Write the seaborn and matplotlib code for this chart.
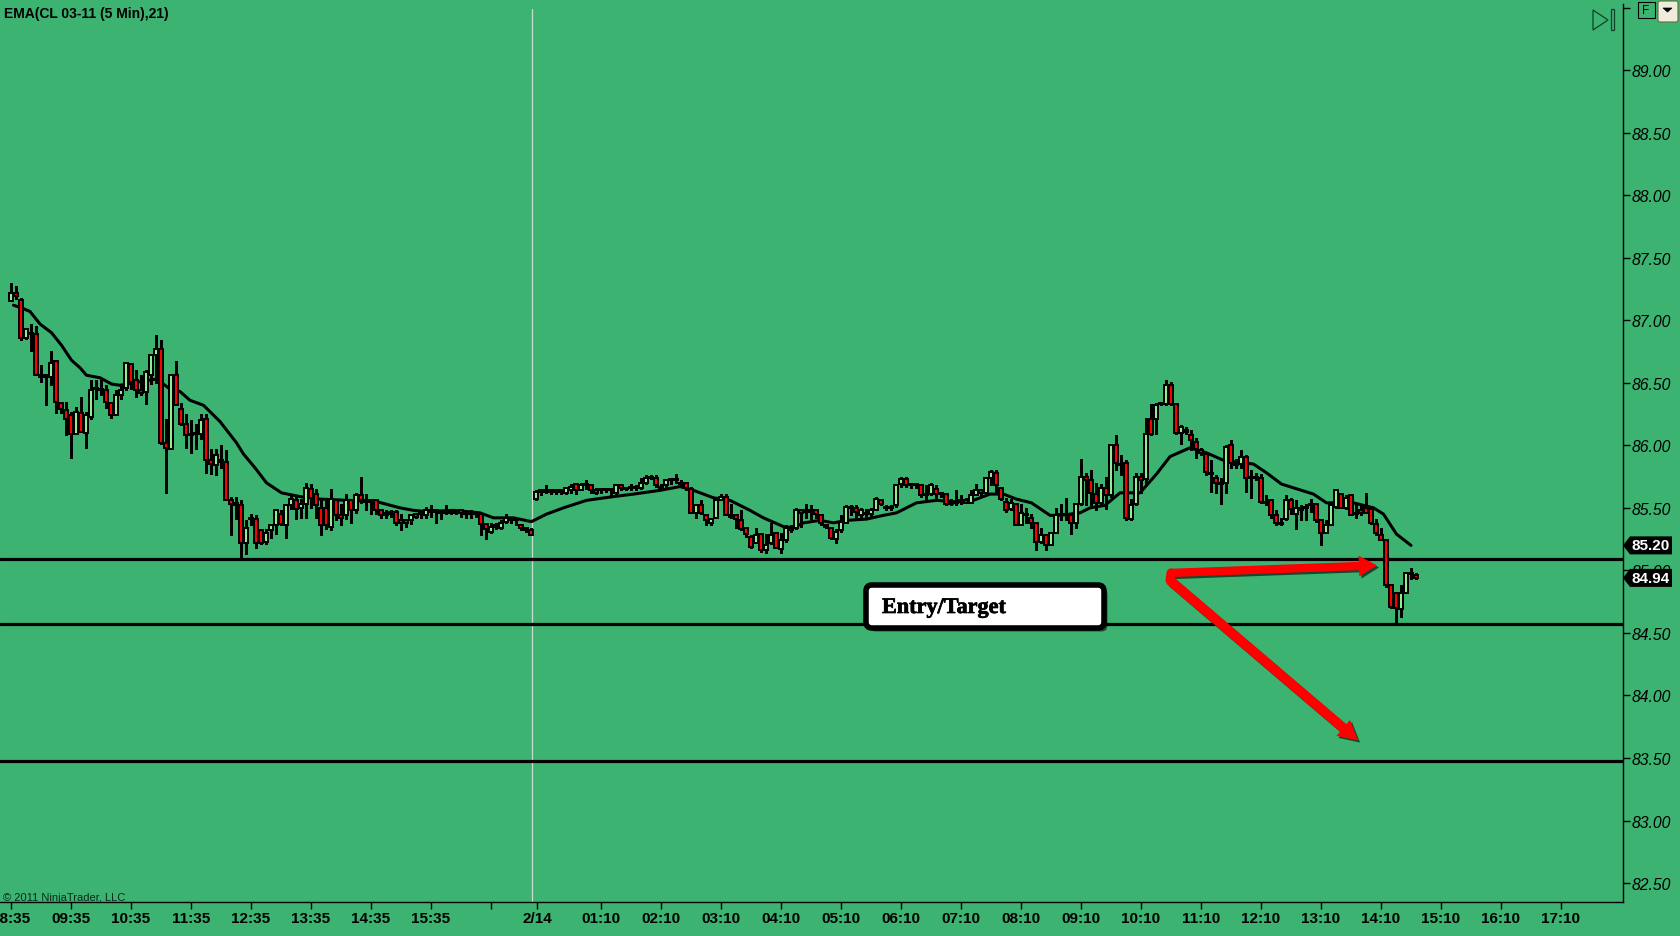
import numpy as np
import pandas as pd
import matplotlib
matplotlib.use("Agg")
import matplotlib.pyplot as plt
import matplotlib.patheffects as pe
from matplotlib.patches import FancyBboxPatch, FancyArrowPatch, Polygon, Rectangle
import seaborn as sns

opens = [
87.15,87.22,87.16,86.86,86.90,86.89,86.56,86.56,86.55,86.67,
86.34,86.28,86.24,86.09,86.26,86.10,86.23,86.45,86.45,86.44,
86.34,86.24,86.40,86.46,86.65,86.52,86.44,86.43,86.56,86.72,
86.77,86.02,85.97,86.56,86.29,86.17,86.09,86.10,86.09,86.21,
85.88,85.84,85.88,85.87,85.56,85.54,85.52,85.22,85.42,85.41,
85.32,85.23,85.32,85.36,85.45,85.36,85.52,85.56,85.50,85.53,
85.65,85.61,85.50,85.50,85.35,85.56,85.44,85.44,85.56,85.48,
85.60,85.56,85.56,85.56,85.48,85.46,85.47,85.47,85.40,85.40,
85.40,85.45,85.46,85.44,85.48,85.48,85.47,85.47,85.47,85.47,
85.48,85.47,85.46,85.46,85.45,85.37,85.31,85.36,85.34,85.39,
85.42,85.41,85.36,85.34,85.32,85.57,85.64,85.64,85.64,85.64,
85.64,85.62,85.64,85.69,85.64,85.69,85.68,85.64,85.64,85.65,
85.65,85.62,85.68,85.66,85.67,85.67,85.66,85.70,85.75,85.74,
85.67,85.68,85.73,85.73,85.70,85.70,85.65,85.46,85.52,85.44,
85.38,85.42,85.56,85.59,85.44,85.44,85.40,85.34,85.27,85.22,
85.29,85.16,85.22,85.30,85.17,85.24,85.34,85.34,85.48,85.48,
85.48,85.48,85.44,85.36,85.34,85.25,85.32,85.38,85.51,85.50,
85.44,85.46,85.45,85.48,85.56,85.51,85.51,85.52,85.69,85.73,
85.69,85.69,85.68,85.61,85.61,85.65,85.62,85.61,85.54,85.55,
85.56,85.56,85.54,85.60,85.64,85.62,85.74,85.78,85.66,85.55,
85.49,85.53,85.36,85.45,85.42,85.38,85.23,85.28,85.20,85.30,
85.45,85.45,85.44,85.38,85.53,85.75,85.72,85.61,85.54,85.66,
85.60,86.00,85.85,85.86,85.41,85.53,85.75,85.73,86.21,86.21,
86.34,86.33,86.48,86.33,86.10,86.12,86.08,86.03,85.96,85.93,
85.78,85.74,85.70,85.70,86.00,85.86,85.85,85.91,85.75,85.75,
85.74,85.55,85.56,85.44,85.38,85.41,85.56,85.45,85.50,85.51,
85.53,85.53,85.40,85.30,85.36,85.51,85.61,85.50,85.60,85.45,
85.48,85.50,85.49,85.37,85.28,85.24,84.88,84.82,84.69,84.82,84.98,84.96]

closes = [
87.22,87.19,86.86,86.93,86.89,86.56,86.55,86.55,86.66,86.35,
86.29,86.21,86.09,86.27,86.11,86.24,86.44,86.46,86.44,86.35,
86.24,86.40,86.44,86.66,86.51,86.44,86.42,86.59,86.72,86.77,
86.02,85.98,86.56,86.32,86.17,86.08,86.08,86.09,86.20,85.88,
85.85,85.92,85.87,85.56,85.53,85.52,85.22,85.34,85.41,85.22,
85.22,85.30,85.36,85.48,85.37,85.52,85.57,85.49,85.53,85.66,
85.58,85.52,85.36,85.36,85.57,85.44,85.42,85.56,85.48,85.60,
85.56,85.55,85.55,85.48,85.44,85.44,85.45,85.38,85.38,85.38,
85.44,85.43,85.45,85.48,85.47,85.47,85.46,85.46,85.46,85.46,
85.46,85.45,85.45,85.45,85.37,85.33,85.35,85.35,85.38,85.42,
85.40,85.40,85.34,85.32,85.28,85.63,85.63,85.63,85.63,85.63,
85.63,85.66,85.67,85.64,85.68,85.68,85.64,85.62,85.65,85.64,
85.64,85.68,85.66,85.65,85.66,85.66,85.70,85.74,85.74,85.68,
85.66,85.72,85.72,85.72,85.69,85.66,85.46,85.52,85.46,85.40,
85.41,85.56,85.59,85.44,85.43,85.41,85.33,85.29,85.19,85.28,
85.16,85.20,85.28,85.18,85.24,85.34,85.32,85.48,85.46,85.47,
85.47,85.45,85.38,85.35,85.26,85.31,85.39,85.51,85.50,85.47,
85.48,85.45,85.48,85.57,85.53,85.50,85.50,85.68,85.73,85.68,
85.68,85.68,85.60,85.60,85.68,85.61,85.61,85.53,85.53,85.54,
85.55,85.54,85.60,85.64,85.62,85.74,85.79,85.68,85.57,85.48,
85.54,85.36,85.46,85.44,85.38,85.23,85.28,85.20,85.30,85.44,
85.44,85.44,85.38,85.53,85.75,85.72,85.62,85.54,85.66,85.60,
86.00,85.86,85.84,85.42,85.52,85.75,85.72,86.09,86.09,86.32,
86.33,86.48,86.33,86.10,86.15,86.11,86.04,85.97,85.94,85.79,
85.77,85.70,85.69,85.99,85.86,85.84,85.91,85.74,85.74,85.74,
85.55,85.54,85.44,85.38,85.37,85.56,85.49,85.50,85.48,85.50,
85.52,85.40,85.30,85.36,85.52,85.64,85.50,85.58,85.44,85.46,
85.46,85.46,85.38,85.30,85.24,84.88,84.71,84.70,84.82,84.98,84.97,84.94]

highs = [
87.30,87.27,87.18,86.94,86.97,86.95,86.64,86.56,86.75,86.68,
86.35,86.35,86.27,86.31,86.39,86.27,86.52,86.52,86.52,86.48,
86.35,86.44,86.49,86.66,86.66,86.60,86.56,86.60,86.72,86.88,
86.84,86.21,86.56,86.67,86.34,86.25,86.20,86.17,86.25,86.25,
85.97,85.97,86.00,85.96,85.59,85.59,85.56,85.40,85.45,85.44,
85.33,85.33,85.37,85.48,85.48,85.53,85.60,85.60,85.57,85.70,
85.69,85.65,85.56,85.56,85.65,85.57,85.53,85.61,85.57,85.62,
85.75,85.61,85.57,85.57,85.49,85.48,85.48,85.48,85.45,85.41,
85.44,85.46,85.48,85.51,85.52,85.49,85.48,85.52,85.48,85.48,
85.48,85.48,85.48,85.47,85.46,85.38,85.38,85.38,85.40,85.45,
85.43,85.42,85.37,85.34,85.34,85.64,85.64,85.68,85.64,85.64,
85.64,85.67,85.69,85.70,85.70,85.72,85.69,85.66,85.66,85.66,
85.66,85.69,85.69,85.67,85.69,85.68,85.74,85.76,85.76,85.76,
85.69,85.73,85.74,85.77,85.72,85.71,85.67,85.53,85.56,85.45,
85.42,85.56,85.61,85.61,85.53,85.45,85.48,85.35,85.28,85.34,
85.29,85.29,85.38,85.30,85.30,85.36,85.36,85.50,85.49,85.53,
85.52,85.49,85.44,85.37,85.34,85.33,85.44,85.52,85.52,85.52,
85.50,85.49,85.50,85.59,85.57,85.52,85.52,85.69,85.75,85.75,
85.70,85.70,85.69,85.68,85.70,85.68,85.63,85.62,85.57,85.64,
85.60,85.58,85.64,85.69,85.65,85.74,85.80,85.80,85.66,85.58,
85.57,85.54,85.53,85.50,85.45,85.39,85.34,85.29,85.30,85.50,
85.53,85.58,85.46,85.54,85.89,85.78,85.80,85.70,85.69,85.75,
86.01,86.08,85.92,85.88,85.57,85.78,85.78,86.22,86.33,86.34,
86.34,86.52,86.51,86.34,86.16,86.15,86.12,86.06,85.98,85.94,
85.88,85.76,85.74,86.00,86.04,85.89,85.96,85.92,85.80,85.78,
85.77,85.60,85.56,85.48,85.42,85.60,85.58,85.56,85.52,85.53,
85.57,85.54,85.40,85.40,85.53,85.65,85.62,85.60,85.60,85.54,
85.53,85.62,85.50,85.41,85.34,85.25,84.89,84.82,84.88,84.98,85.02,84.98]

lows = [
87.15,87.17,86.84,86.85,86.75,86.56,86.51,86.32,86.48,86.26,
86.26,86.08,85.90,86.09,86.11,85.98,86.21,86.37,86.40,86.30,
86.22,86.24,86.37,86.44,86.45,86.39,86.40,86.33,86.49,86.50,
86.01,85.62,85.97,86.32,86.16,85.98,85.94,85.97,86.05,85.78,
85.77,85.76,85.82,85.56,85.28,85.41,85.11,85.13,85.36,85.18,
85.21,85.21,85.26,85.29,85.36,85.26,85.49,85.41,85.42,85.42,
85.50,85.42,85.28,85.33,85.32,85.40,85.36,85.41,85.38,85.46,
85.54,85.48,85.45,85.45,85.42,85.42,85.43,85.36,85.32,85.35,
85.37,85.42,85.42,85.42,85.43,85.38,85.41,85.45,85.45,85.45,
85.43,85.42,85.42,85.43,85.28,85.25,85.30,85.33,85.33,85.38,
85.38,85.36,85.32,85.31,85.28,85.56,85.60,85.62,85.61,85.61,
85.61,85.61,85.62,85.61,85.64,85.65,85.62,85.61,85.62,85.63,
85.60,85.61,85.64,85.64,85.64,85.64,85.65,85.69,85.73,85.67,
85.64,85.66,85.69,85.70,85.68,85.64,85.46,85.42,85.45,85.36,
85.36,85.42,85.56,85.44,85.42,85.34,85.32,85.27,85.18,85.22,
85.15,85.14,85.21,85.18,85.14,85.23,85.31,85.33,85.35,85.42,
85.41,85.42,85.36,85.34,85.25,85.22,85.31,85.38,85.44,85.42,
85.42,85.42,85.42,85.48,85.52,85.48,85.48,85.51,85.67,85.67,
85.66,85.66,85.59,85.56,85.60,85.58,85.59,85.52,85.52,85.52,
85.53,85.54,85.54,85.60,85.60,85.62,85.68,85.62,85.56,85.47,
85.48,85.36,85.36,85.38,85.34,85.16,85.22,85.16,85.20,85.30,
85.40,85.40,85.29,85.34,85.52,85.52,85.52,85.48,85.52,85.49,
85.59,85.80,85.76,85.40,85.40,85.52,85.62,85.69,86.08,86.09,
86.32,86.32,86.32,86.09,86.01,86.09,85.96,85.90,85.92,85.76,
85.63,85.62,85.53,85.62,85.82,85.82,85.82,85.63,85.58,85.72,
85.54,85.52,85.42,85.36,85.36,85.40,85.45,85.33,85.40,85.40,
85.47,85.39,85.20,85.30,85.36,85.50,85.50,85.49,85.44,85.42,
85.44,85.46,85.37,85.28,85.24,84.87,84.70,84.58,84.63,84.82,84.93,84.93]

ema_bars = [
0.5,2,3.8,5.8,8.1,10.1,12.1,13.8,15.1,17.8,20.1,21.8,24.5,29.1,31.8,33.8,35.8,38.5,41.8,45.1,46.5,48.8,51.1,54.1,57.8,
61.8,73.1,77.8,80.5,83.1,88.5,93.8,96.5,100.5,104.1,107.1,110.5,115.1,120.5,124.5,129.8,133.8,
136.5,140.5,143.8,147.8,150.5,154.5,156.5,158.5,161.8,164.5,167.1,171.1,174.5,177.1,181.1,185.1,188.5,191.8,195.8,198.5,201.1,204.1,207.8,209.8,
213.8,215.8,218.8,221.8,225.8,229.1,231.8,235.8,239.1,242.5,248.5,251.1,254.1,256.5,260.5,263.1,268.5,272.5,274.5,277.1,280]
ema_vals = [
87.12,87.10,87.07,86.97,86.90,86.80,86.68,86.62,86.56,86.54,86.49,86.48,86.50,86.53,86.45,86.43,86.36,86.32,86.19,86.02,85.93,85.82,85.70,85.62,85.59,
85.57,85.55,85.50,85.48,85.47,85.48,85.46,85.42,85.42,85.39,85.45,85.50,85.56,85.59,85.61,85.64,85.67,
85.64,85.58,85.56,85.48,85.42,85.35,85.34,85.38,85.40,85.38,85.40,85.41,85.44,85.46,85.54,85.56,85.55,85.55,85.61,85.61,85.57,85.54,85.44,85.44,
85.46,85.50,85.52,85.62,85.62,85.77,85.91,85.98,85.94,85.88,85.85,85.78,85.69,85.66,85.61,85.54,85.54,85.50,85.45,85.29,85.20]

level_prices = [85.09, 84.57, 83.48]
price_ticks = [82.5, 83.0, 83.5, 84.0, 84.5, 85.0, 85.5, 86.0, 86.5, 87.0, 87.5, 88.0, 88.5, 89.0, 89.5]
time_tick_bars = [0,12,24,36,48,60,72,84,96,105.2,118,130,142,154,166,178,190,202,214,226,238,250,262,274,286,298,310]
time_labels = ["08:35","09:35","10:35","11:35","12:35","13:35","14:35","15:35","","2/14",
               "01:10","02:10","03:10","04:10","05:10","06:10","07:10","08:10","09:10","10:10",
               "11:10","12:10","13:10","14:10","15:10","16:10","17:10"]
session_break_bar = 104.1

GREEN = "#3CB371"
W, H = 1680, 937

sns.set_theme(style="white", rc={"axes.facecolor": GREEN, "figure.facecolor": GREEN})
plt.rcParams["font.family"] = ["Liberation Sans", "DejaVu Sans"]

fig = plt.figure(figsize=(W / 100, H / 100), dpi=100)
ax = fig.add_axes([0, 34 / H, 1623 / W, 898 / H])
ax.set_xlim(-2.2, 322.4)
ax.set_ylim(82.349, 89.528)

df = pd.DataFrame({"o": opens, "h": highs, "l": lows, "c": closes})
df["bar"] = np.arange(len(df))
ema = pd.DataFrame({"bar": ema_bars, "ema": ema_vals})

for p in level_prices:
    ax.axhline(p, color="black", lw=2.3, zorder=1.5)
ax.axvline(session_break_bar, ymax=0.994, color="#C9DCD0", lw=0.9, zorder=1.2)

sns.lineplot(data=ema, x="bar", y="ema", color="black", lw=2.2, ax=ax, zorder=2, errorbar=None)

ax.vlines(df["bar"], df["l"], df["h"], color="black", lw=2.1, zorder=3, antialiased=False)
body_colors = np.where(df["c"] > df["o"], "#90EE90", "#FF0000")
bars = ax.bar(df["bar"], (df["c"] - df["o"]).abs(), bottom=df[["o", "c"]].min(axis=1), width=0.8,
              color=body_colors, edgecolor="black", linewidth=1.1, zorder=3.2)
for b in bars:
    b.set_antialiased(False)

# arrows
patch_shadow = [pe.SimplePatchShadow(offset=(1.5, -1.5), shadow_rgbFace="black", alpha=0.6), pe.Normal()]
ax.add_patch(FancyArrowPatch((232, 84.98), (273.2, 85.04), arrowstyle="simple,head_length=13,head_width=15,tail_width=6",
                             mutation_scale=1, color="#FF0000", lw=0, shrinkA=0, shrinkB=0, zorder=6, path_effects=patch_shadow))
ax.add_patch(FancyArrowPatch((231.8, 84.92), (269.4, 83.64), arrowstyle="simple,head_length=14,head_width=15,tail_width=7",
                             mutation_scale=1, color="#FF0000", lw=0, shrinkA=0, shrinkB=0, zorder=6, path_effects=patch_shadow))
ax.plot([232, 231.8], [84.98, 84.92], color="#FF0000", lw=6.5, solid_capstyle="round", zorder=6.1)

# axes furniture
for s in ["left", "top"]:
    ax.spines[s].set_visible(False)
for s in ["right", "bottom"]:
    ax.spines[s].set_visible(True)
    ax.spines[s].set_color("black")
    ax.spines[s].set_linewidth(1.0)
ax.set_xlabel("")
ax.set_ylabel("")
ax.yaxis.tick_right()
ax.set_yticks(price_ticks)
ax.set_yticklabels([f"{p:.2f}" if p < 89.5 else "" for p in price_ticks], fontstyle="italic", fontsize=11.3)
ax.set_xticks(time_tick_bars)
ax.set_xticklabels(time_labels, fontweight="bold", fontsize=11)
ax.tick_params(axis="y", right=True, length=5, width=1, color="black", labelcolor="black", pad=1.5)
ax.tick_params(axis="x", bottom=True, length=5, width=1, color="black", labelcolor="black", pad=1.2)
ax.grid(False)

ax.text(4 / 1623, 1 - 9 / 898, "EMA(CL 03-11 (5 Min),21)", transform=ax.transAxes, fontsize=10, fontweight="bold",
        va="center", ha="left", color="black")
ax.text(3 / 1623, 1 - 893 / 898, "© 2011 NinjaTrader, LLC", transform=ax.transAxes, fontsize=8,
        va="center", ha="left", color="#0c2a18")

# price flags
yt = ax.get_yaxis_transform()
for p, label in [(ema_vals[-1], "85.20"), (closes[-1], "84.94")]:
    hh = 0.072
    ax.add_patch(Polygon([(1, p), (1 + 7 / 1623, p + hh), (1 + 49 / 1623, p + hh), (1 + 49 / 1623, p - hh), (1 + 7 / 1623, p - hh)],
                         closed=True, transform=yt, facecolor="black", edgecolor="none", clip_on=False, zorder=8))
    ax.text(1 + 28 / 1623, p, label, transform=yt, color="white", fontsize=11, fontweight="bold",
            ha="center", va="center", zorder=9, clip_on=False)

inch = fig.dpi_scale_trans
def P(x, y):
    return (x / 100, (H - y) / 100)

# annotation box
box = FancyBboxPatch(P(866, 629), 2.38, 0.43, boxstyle="round,pad=0.0,rounding_size=0.06", transform=inch,
                     facecolor="white", edgecolor="black", lw=4.0, zorder=7,
                     path_effects=[pe.SimplePatchShadow(offset=(2.5, -2.5), shadow_rgbFace="black", alpha=0.55), pe.Normal()])
ax.add_patch(box)
ax.text(*P(882, 609), "Entry/Target", transform=inch, family="Liberation Serif", fontweight="bold", fontsize=16,
        va="center", ha="left", color="black", zorder=8,
        path_effects=[pe.withStroke(linewidth=0.5, foreground="black")])

# toolbar icons
ax.add_patch(Polygon([P(1593, 11), P(1608, 21), P(1593, 31)], closed=True, transform=inch, fill=False,
                     edgecolor="#12402a", lw=0.9, clip_on=False, zorder=8))
ax.add_patch(Rectangle(P(1610.5, 31), 0.03, 0.21, transform=inch, fill=False, edgecolor="#12402a", lw=0.9, clip_on=False, zorder=8))
ax.add_patch(Rectangle(P(1637.5, 19.5), 0.175, 0.165, transform=inch, fill=False, edgecolor="black", lw=0.8, clip_on=False, zorder=8))
ax.text(*P(1646, 11), "F", transform=inch, fontsize=8.5, ha="center", va="center", color="black", zorder=9)
ax.add_patch(FancyBboxPatch(P(1658, 23), 0.20, 0.21, boxstyle="round,pad=0,rounding_size=0.02", transform=inch,
                            facecolor="#EFEBDD", edgecolor="#6b6b3a", lw=0.8, clip_on=False, zorder=8))
ax.add_patch(Polygon([P(1663, 9), P(1672, 9), P(1667.5, 13)], closed=True, transform=inch, facecolor="black",
                     edgecolor="black", lw=0.5, clip_on=False, zorder=9))

fig.savefig("out.png", dpi=100, facecolor=GREEN)
